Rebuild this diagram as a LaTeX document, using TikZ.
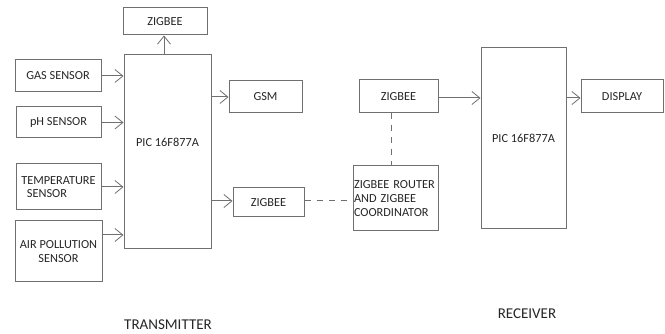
\documentclass[tikz,border=0pt]{standalone}
\usepackage{fontspec}
\setmainfont{Carlito}
\usetikzlibrary{arrows.meta}
\definecolor{ln}{RGB}{112,112,112}
\begin{document}
\begin{tikzpicture}[x=1pt,y=-1pt,
  box/.style={draw=ln, line width=1pt, inner sep=1pt, font=\fontsize{12.3}{13.8}\selectfont, text=black!85},
  arr/.style={draw=ln, line width=1pt, -{Straight Barb[length=8pt,width=13pt,line width=0.8pt]}},
  dsh/.style={draw=ln, line width=1pt, dash pattern=on 6pt off 6pt},
  ttl/.style={font=\fontsize{15}{16}\selectfont, text=black!85}]
\useasboundingbox (0,0) rectangle (665,334);
\fill[white] (0,0) rectangle (665,334);
% transmitter
\node[box, minimum width=84pt, minimum height=27pt] (zt) at (165,21.5) {ZIGBEE};
\node[box, minimum width=87pt, minimum height=194pt,
  label={[font=\fontsize{12.3}{13.8}\selectfont, text=black!85, yshift=10pt]center:PIC 16F877A}] (pic1) at (167.5,152) {};
\node[box, minimum width=86pt, minimum height=32pt] (gas) at (58,76) {GAS SENSOR};
\node[box, minimum width=85pt, minimum height=31pt] (ph) at (58.5,122.5) {pH SENSOR};
\node[box, minimum width=85pt, minimum height=46pt, align=left] (temp) at (58.5,187) {TEMPERATURE\\\ \ SENSOR};
\node[box, minimum width=87pt, minimum height=61pt, align=center] (air) at (58.5,251.5) {AIR POLLUTION\\SENSOR};
\node[box, minimum width=73pt, minimum height=32pt] (gsm) at (265.5,97) {GSM};
\node[box, minimum width=71pt, minimum height=29pt] (zb1) at (268.5,202.5) {ZIGBEE};
% receiver
\node[box, minimum width=85pt, minimum height=65pt, text width=83pt, align=left, inner sep=1pt] (rt) at (395.5,198.5) {ZIGBEE ROUTER\\AND ZIGBEE\\COORDINATOR};
\node[box, minimum width=79pt, minimum height=33pt] (zb2) at (398.5,96.5) {ZIGBEE};
\node[box, minimum width=85pt, minimum height=181pt] (pic2) at (523.5,138.5) {PIC 16F877A};
\node[box, minimum width=82pt, minimum height=33pt] (disp) at (622,96.5) {DISPLAY};
% titles
\node[ttl] (tx) at (168,325) {TRANSMITTER};
\node[ttl] (rx) at (527,314) {RECEIVER};
% connectors
\coordinate (ptop) at (164,55);
\draw[arr] (ptop) -- (ptop |- zt.south);
\draw[arr] (gas.east) -- (gas.east -| pic1.west);
\draw[arr] (ph.east) -- (ph.east -| pic1.west);
\draw[arr] (temp.east) -- (temp.east -| pic1.west);
\draw[arr] ([yshift=16.5pt]air.east) -- ([yshift=16.5pt]air.east -| pic1.west);
\draw[arr] (gsm.west -| pic1.east) -- (gsm.west);
\draw[arr] ([yshift=1.5pt]zb1.west -| pic1.east) -- ([yshift=1.5pt]zb1.west);
\draw[dsh] ([yshift=1.5pt]zb1.east) -- ([yshift=1.5pt]zb1.east -| rt.west);
\coordinate (zbv) at (391,113);
\draw[dsh] (zbv) -- (zbv |- rt.north);
\draw[arr] ([yshift=-1.5pt]zb2.east) -- ([yshift=-1.5pt]zb2.east -| pic2.west);
\draw[arr] ([yshift=-1.5pt]disp.west -| pic2.east) -- ([yshift=-1.5pt]disp.west);
\end{tikzpicture}
\end{document}
